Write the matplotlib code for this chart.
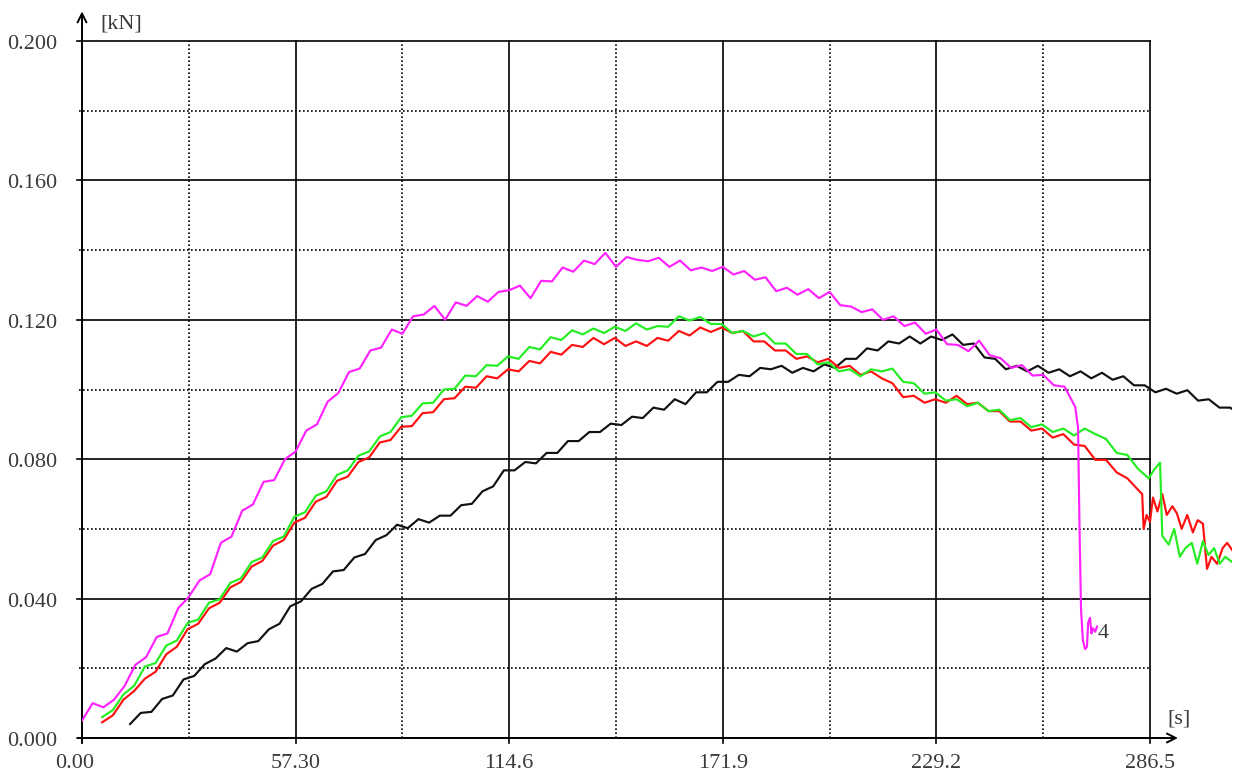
import numpy as np
import matplotlib
matplotlib.use("Agg")
import matplotlib.pyplot as plt

# ---------------- data ----------------
STEP = 57.3 / 20  # sampling step of the typed readings [s]

x_major = [57.30, 114.6, 171.9, 229.2, 286.5]
x_minor = [28.65, 85.95, 143.25, 200.55, 257.85]
x_labels = ["0.00", "57.30", "114.6", "171.9", "229.2", "286.5"]
y_major = [0.04, 0.08, 0.12, 0.16, 0.20]
y_minor = [0.02, 0.06, 0.10, 0.14, 0.18]
y_labels = ["0.000", "0.040", "0.080", "0.120", "0.160", "0.200"]

# curve 4 (magenta)
mag_t0 = 0.0
mag_v = [0.0050, 0.0100, 0.0088, 0.0110, 0.0150, 0.0210, 0.0232, 0.0290, 0.0300, 0.0372,
         0.0405, 0.0452, 0.0470, 0.0560, 0.0578, 0.0652, 0.0670, 0.0735, 0.0740, 0.0800,
         0.0822, 0.0882, 0.0900, 0.0965, 0.0990, 0.1050, 0.1060, 0.1112, 0.1120, 0.1172,
         0.1160, 0.1210, 0.1215, 0.1240, 0.1200, 0.1250, 0.1240, 0.1268, 0.1252, 0.1280,
         0.1285, 0.1298, 0.1262, 0.1312, 0.1310, 0.1350, 0.1338, 0.1370, 0.1360, 0.1392,
         0.1352, 0.1380, 0.1372, 0.1368, 0.1378, 0.1352, 0.1370, 0.1342, 0.1350, 0.1340,
         0.1352, 0.1330, 0.1340, 0.1315, 0.1322, 0.1282, 0.1292, 0.1272, 0.1288, 0.1262,
         0.1280, 0.1242, 0.1238, 0.1222, 0.1230, 0.1200, 0.1210, 0.1182, 0.1192, 0.1160,
         0.1172, 0.1130, 0.1128, 0.1110, 0.1140, 0.1098, 0.1090, 0.1062, 0.1070, 0.1040,
         0.1042, 0.1012, 0.1008, 0.0950]
mag_tail_t = [267.2, 267.6, 268.0, 268.5, 269.1, 269.6, 269.9, 270.4, 270.8, 271.2, 271.8, 272.3]
mag_tail_v = [0.0890, 0.0600, 0.0370, 0.0280, 0.0255, 0.0262, 0.0330, 0.0345, 0.0300, 0.0315, 0.0305, 0.0320]

# green curve
grn_t0 = 5.4
grn_v = [0.0060, 0.0080, 0.0125, 0.0150, 0.0205, 0.0215, 0.0265, 0.0280, 0.0330, 0.0340,
         0.0388, 0.0398, 0.0445, 0.0458, 0.0505, 0.0518, 0.0565, 0.0578, 0.0635, 0.0648,
         0.0695, 0.0708, 0.0755, 0.0768, 0.0810, 0.0822, 0.0865, 0.0878, 0.0920, 0.0925,
         0.0960, 0.0962, 0.1000, 0.1002, 0.1040, 0.1038, 0.1070, 0.1068, 0.1095, 0.1088,
         0.1122, 0.1115, 0.1150, 0.1142, 0.1170, 0.1158, 0.1175, 0.1162, 0.1180, 0.1168,
         0.1190, 0.1172, 0.1182, 0.1180, 0.1210, 0.1198, 0.1208, 0.1188, 0.1188, 0.1162,
         0.1168, 0.1152, 0.1162, 0.1132, 0.1132, 0.1102, 0.1102, 0.1072, 0.1078, 0.1052,
         0.1058, 0.1038, 0.1058, 0.1052, 0.1060, 0.1022, 0.1018, 0.0988, 0.0992, 0.0968,
         0.0972, 0.0952, 0.0962, 0.0938, 0.0942, 0.0912, 0.0918, 0.0892, 0.0900, 0.0878,
         0.0888, 0.0868, 0.0888, 0.0872, 0.0858, 0.0818, 0.0812, 0.0772, 0.0745]
grn_tail_t = [287.6, 289.2, 289.8, 291.5, 293.0, 294.5, 296.0, 297.7, 299.2, 300.7,
              302.2, 303.7, 305.2, 306.7, 308.5]
grn_tail_v = [0.0770, 0.0790, 0.0580, 0.0555, 0.0600, 0.0520, 0.0545, 0.0560, 0.0500, 0.0565,
              0.0525, 0.0545, 0.0500, 0.0520, 0.0505]

# red curve
red_t0 = 5.4
red_v = [0.0045, 0.0065, 0.0110, 0.0135, 0.0170, 0.0190, 0.0240, 0.0262, 0.0312, 0.0328,
         0.0372, 0.0388, 0.0432, 0.0448, 0.0492, 0.0508, 0.0552, 0.0568, 0.0618, 0.0632,
         0.0678, 0.0692, 0.0738, 0.0750, 0.0792, 0.0805, 0.0848, 0.0855, 0.0893, 0.0895,
         0.0932, 0.0935, 0.0972, 0.0975, 0.1008, 0.1005, 0.1038, 0.1032, 0.1058, 0.1052,
         0.1082, 0.1075, 0.1108, 0.1100, 0.1128, 0.1122, 0.1148, 0.1130, 0.1148, 0.1125,
         0.1138, 0.1125, 0.1148, 0.1140, 0.1168, 0.1155, 0.1178, 0.1165, 0.1178, 0.1162,
         0.1168, 0.1138, 0.1138, 0.1112, 0.1112, 0.1088, 0.1095, 0.1078, 0.1088, 0.1062,
         0.1068, 0.1042, 0.1052, 0.1032, 0.1018, 0.0978, 0.0982, 0.0962, 0.0972, 0.0962,
         0.0982, 0.0958, 0.0962, 0.0938, 0.0938, 0.0908, 0.0908, 0.0882, 0.0888, 0.0862,
         0.0872, 0.0842, 0.0838, 0.0798, 0.0798, 0.0762, 0.0745, 0.0712]
red_tail_t = [284.4, 284.8, 285.6, 286.5, 287.3, 288.5, 289.8, 291.0, 292.5, 293.7,
              295.0, 296.5, 298.0, 299.3, 300.7, 301.8, 303.0, 304.5, 306.0, 307.2, 308.5]
red_tail_v = [0.0700, 0.0600, 0.0640, 0.0620, 0.0690, 0.0650, 0.0700, 0.0640, 0.0665, 0.0645,
              0.0600, 0.0640, 0.0590, 0.0625, 0.0615, 0.0485, 0.0520, 0.0500, 0.0545, 0.0560, 0.0540]

# black curve
blk_t0 = 12.9
blk_v = [0.0040, 0.0072, 0.0075, 0.0112, 0.0122, 0.0168, 0.0178, 0.0212, 0.0228, 0.0258,
         0.0248, 0.0272, 0.0278, 0.0312, 0.0328, 0.0378, 0.0392, 0.0428, 0.0442, 0.0478,
         0.0482, 0.0518, 0.0528, 0.0568, 0.0582, 0.0612, 0.0602, 0.0628, 0.0618, 0.0638,
         0.0638, 0.0668, 0.0672, 0.0708, 0.0722, 0.0768, 0.0768, 0.0792, 0.0788, 0.0818,
         0.0818, 0.0852, 0.0852, 0.0878, 0.0878, 0.0902, 0.0898, 0.0922, 0.0918, 0.0948,
         0.0942, 0.0972, 0.0958, 0.0992, 0.0992, 0.1022, 0.1022, 0.1042, 0.1038, 0.1062,
         0.1058, 0.1068, 0.1048, 0.1062, 0.1052, 0.1072, 0.1062, 0.1088, 0.1088, 0.1118,
         0.1112, 0.1138, 0.1132, 0.1152, 0.1132, 0.1152, 0.1142, 0.1158, 0.1128, 0.1132,
         0.1092, 0.1088, 0.1058, 0.1068, 0.1052, 0.1068, 0.1048, 0.1058, 0.1038, 0.1052,
         0.1032, 0.1048, 0.1028, 0.1038, 0.1012, 0.1012, 0.0992, 0.1002, 0.0988, 0.0998,
         0.0968, 0.0972, 0.0948, 0.0948, 0.0928]


def series(t0, vals, tail_t=(), tail_v=()):
    t = t0 + STEP * np.arange(len(vals))
    return np.concatenate([t, tail_t]), np.concatenate([vals, tail_v])


# ---------------- figure ----------------
W, H = 1238, 778
fig = plt.figure(figsize=(W / 100, H / 100), dpi=100)
fig.patch.set_facecolor("white")
ax = fig.add_axes([82 / W, 40 / H, (1232 - 82) / W, (738 - 41) / H])
ax.set_xlim(0, 308.5)
ax.set_ylim(0, 0.2)
ax.axis("off")

XMAX = x_major[-1]
dot = (0, (1, 1.4))
txtc = "#3a3a3a"
fam = ["Liberation Serif", "DejaVu Serif"]

# grid
for y in y_major:
    ax.plot([-1.3, XMAX], [y, y], color="black", lw=1.2, clip_on=False, zorder=1)
for y in y_minor:
    ax.plot([-0.8, XMAX], [y, y], color="black", lw=1.2, ls=dot, clip_on=False, zorder=1)
for x in x_major:
    ax.plot([x, x], [-0.0015, 0.2], color="black", lw=1.2, clip_on=False, zorder=1)
for x in x_minor:
    ax.plot([x, x], [0, 0.2], color="black", lw=1.2, ls=dot, clip_on=False, zorder=1)

# axes with arrows
ax.annotate("", xy=(0, 0.2085), xytext=(0, -0.0015),
            arrowprops=dict(arrowstyle="->", lw=1.4, color="black", shrinkA=0, shrinkB=0,
                            mutation_scale=16),
            annotation_clip=False, zorder=3)
ax.annotate("", xy=(294.0, 0), xytext=(-1.3, 0),
            arrowprops=dict(arrowstyle="->", lw=1.4, color="black", shrinkA=0, shrinkB=0,
                            mutation_scale=16),
            annotation_clip=False, zorder=3)

# curves
LW = 1.55
t, v = series(blk_t0, blk_v)
ax.plot(t, v, color="#111111", lw=LW, zorder=4)
t, v = series(red_t0, red_v, red_tail_t, red_tail_v)
ax.plot(t, v, color="#ff1010", lw=LW, zorder=5)
t, v = series(grn_t0, grn_v, grn_tail_t, grn_tail_v)
ax.plot(t, v, color="#22ee22", lw=LW, zorder=6)
t, v = series(mag_t0, mag_v, mag_tail_t, mag_tail_v)
ax.plot(t, v, color="#ff22ff", lw=LW, zorder=7)

# tick labels
yt = [0.0] + y_major
for y, lab in zip(yt, y_labels):
    ax.text(-6.7, y - 0.001, lab, ha="right", va="center", fontsize=16,
            family=fam, color=txtc, clip_on=False)
xt = [0.0] + x_major
for x, lab in zip(xt, x_labels):
    ax.text(x - (2 if x == 0 else 0), -0.0072, lab, ha="center", va="center", fontsize=16,
            family=fam, color=txtc, clip_on=False)

# unit labels
ax.text(4.8, 0.2049, "[kN]", ha="left", va="center", fontsize=16, family=fam,
        color=txtc, clip_on=False)
ax.text(291.1, 0.0055, "[s]", ha="left", va="center", fontsize=16, family=fam,
        color=txtc, clip_on=False)
ax.text(272.4, 0.0300, "4", ha="left", va="center", fontsize=16, family=fam,
        color=txtc, clip_on=False)

fig.savefig("out.png", dpi=100, facecolor="white")
